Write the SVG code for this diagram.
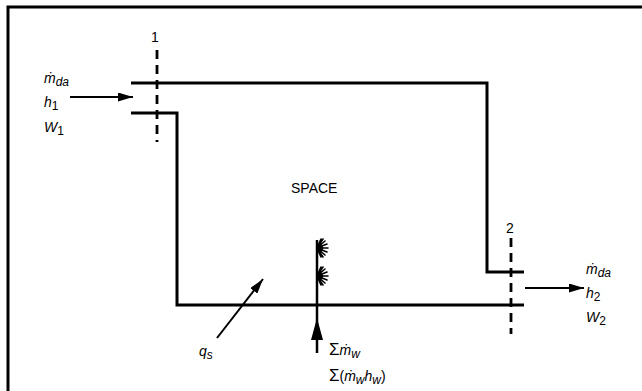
<svg xmlns="http://www.w3.org/2000/svg" width="642" height="391" viewBox="0 0 642 391">
<defs>
<style>
.wall{fill:none;stroke:#000;stroke-width:3}
.dash{fill:none;stroke:#000;stroke-width:2.8;stroke-dasharray:9,6}
.arr{fill:none;stroke:#000;stroke-width:2}
.t{font-family:"Liberation Sans",Arial,sans-serif;font-size:14px;fill:#000}
.i{font-style:italic}
.sub{font-size:12px}
.sig{font-size:17px}
</style>
<marker id="ah" viewBox="0 0 15 9" refX="15" refY="4.5" markerWidth="15" markerHeight="9" markerUnits="userSpaceOnUse" orient="auto">
<path d="M0,0 L15,4.5 L0,9 Z" fill="#000"/>
</marker>
</defs>
<rect x="0" y="0" width="642" height="391" fill="#fff"/>
<path d="M8,400 V7 H650" fill="none" stroke="#000" stroke-width="3"/>
<g id="space">
<path class="wall" d="M131,83 H487 V272 H524"/>
<path class="wall" d="M131,113 H177 V305 H524"/>
<text class="t" x="291" y="193" font-size="13">SPACE</text>
</g>
<g id="section1">
<path class="dash" d="M157,50 V142"/>
<text class="t" x="151" y="42">1</text>
</g>
<g id="section2">
<path class="dash" d="M511,238 V334"/>
<text class="t" x="506" y="233">2</text>
</g>
<g id="inlet">
<text class="t i" x="44" y="83">ṁ<tspan class="sub" dy="3">da</tspan></text>
<text class="t i" x="44" y="107">h<tspan class="sub" dy="3" font-style="normal">1</tspan></text>
<text class="t i" x="44" y="132">W<tspan class="sub" dy="3" font-style="normal">1</tspan></text>
</g>
<g id="outlet">
<text class="t i" x="586" y="274">ṁ<tspan class="sub" dy="3">da</tspan></text>
<text class="t i" x="586" y="298">h<tspan class="sub" dy="3" font-style="normal">2</tspan></text>
<text class="t i" x="586" y="322">W<tspan class="sub" dy="3" font-style="normal">2</tspan></text>
</g>
<g id="water">
<path d="M317,240 V353" stroke="#000" stroke-width="2.5" fill="none"/>
<g stroke="#000" stroke-width="1.6" fill="none" stroke-linecap="round">
<path d="M317,248 l8,-7 M317,248 l10,-4 M317,248 l11,0 M317,248 l10,4 M317,248 l8,7 M317,248 l4,-9 M317,248 l4,9 M317,248 l6,-9 M317,248 l6,9"/>
<path d="M317,276 l8,-7 M317,276 l10,-4 M317,276 l11,0 M317,276 l10,4 M317,276 l8,7 M317,276 l4,-9 M317,276 l4,9 M317,276 l6,-9 M317,276 l6,9"/>
</g>
<circle cx="320" cy="248" r="3" fill="#000"/>
<circle cx="320" cy="276" r="3" fill="#000"/>
<path d="M317,318 L323,340 L311,340 Z" fill="#000"/>
<text class="t" x="329" y="355"><tspan class="sig">Σ</tspan><tspan class="i">ṁ</tspan><tspan class="i sub" dy="3">w</tspan></text>
<text class="t" x="329" y="381"><tspan class="sig">Σ</tspan>(<tspan class="i">ṁ</tspan><tspan class="i sub" dy="3">w</tspan><tspan class="i" dy="-3">h</tspan><tspan class="i sub" dy="3">w</tspan><tspan dy="-3">)</tspan></text>
</g>
<g id="heat">
<text class="t i" x="199" y="356">q<tspan class="sub" dy="3">s</tspan></text>
</g>
<g id="connectors">
<path class="arr" d="M70,97 H133" marker-end="url(#ah)"/>
<path class="arr" d="M525,288 H584" marker-end="url(#ah)"/>
<path class="arr" d="M217,338 L263,279" marker-end="url(#ah)"/>
</g>
</svg>
